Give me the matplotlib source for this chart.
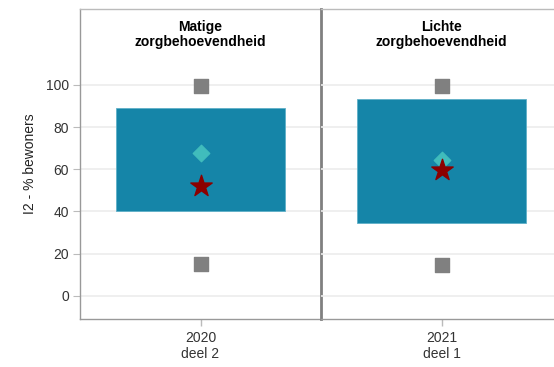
import matplotlib
matplotlib.use("Agg")
import matplotlib.pyplot as plt

plt.rcParams['font.family'] = ['Liberation Sans', 'DejaVu Sans']

# data per panel
panels = ["Matige\nzorgbehoevendheid", "Lichte\nzorgbehoevendheid"]
periods = ["2020\ndeel 2", "2021\ndeel 1"]
box_low = [40.3, 34.6]
box_high = [89.1, 93.4]
sq_high = [99.5, 99.5]
sq_low = [15.2, 14.7]
diamond = [67.8, 64.5]
star = [52.1, 59.7]

W, H = 554, 367
fig = plt.figure(figsize=(W / 100, H / 100), dpi=100)

# panel positions in pixels (left, right); right panel runs off the edge
panel_px = [(80, 321), (321, 562)]
top_px, bottom_px = 9, 319

for i, (l, r) in enumerate(panel_px):
    ax = fig.add_axes([l / W, 1 - bottom_px / H, (r - l) / W, (bottom_px - top_px) / H])
    ax.patch.set_alpha(0)
    ax.set_xlim(-0.5, 0.5)
    ax.set_ylim(-11, 136)
    ax.set_yticks([0, 20, 40, 60, 80, 100])
    for y in [0, 20, 40, 60, 80, 100]:
        ax.axhline(y, color="#ececec", lw=1.2, zorder=0)

    ax.bar([0], [box_high[i] - box_low[i]], bottom=[box_low[i]], width=0.705,
           color="#1585a8", edgecolor="#5fb0c8", lw=0.6, zorder=2)
    ax.scatter([0], [sq_high[i]], marker="s", s=110, color="#808080", zorder=3)
    ax.scatter([0], [sq_low[i]], marker="s", s=110, color="#808080", zorder=3)
    ax.scatter([0], [diamond[i]], marker="D", s=70, color="#40bcbc", zorder=3)
    ax.scatter([0], [star[i]], marker="*", s=260, color="#8b0000", zorder=4)

    ax.set_xticks([0])
    ax.set_xticklabels([periods[i]], fontsize=10, color="#333333", linespacing=1.15)
    ax.tick_params(axis="x", length=5, color="#bbbbbb", width=1, pad=4)

    ax.text(0.5, 0.965, panels[i], transform=ax.transAxes, ha="center", va="top",
            fontsize=10, fontweight="bold", color="black", linespacing=1.1)

    for side in ["top", "bottom", "left", "right"]:
        ax.spines[side].set_color("#999999")
        ax.spines[side].set_linewidth(1)
    ax.spines["top"].set_color("#bbbbbb")

    if i == 0:
        ax.tick_params(axis="y", length=5, color="#bbbbbb", labelsize=10,
                       labelcolor="#333333", pad=3)
        ax.set_ylabel("I2 - % bewoners", fontsize=10, color="#222222", labelpad=6)
        ax.spines["right"].set_color("#808080")
        ax.spines["right"].set_linewidth(2)
        ax.spines["right"].set_zorder(5)
    else:
        ax.tick_params(axis="y", left=False, labelleft=False)
        ax.spines["left"].set_visible(False)

fig.savefig("out.png", dpi=100)
